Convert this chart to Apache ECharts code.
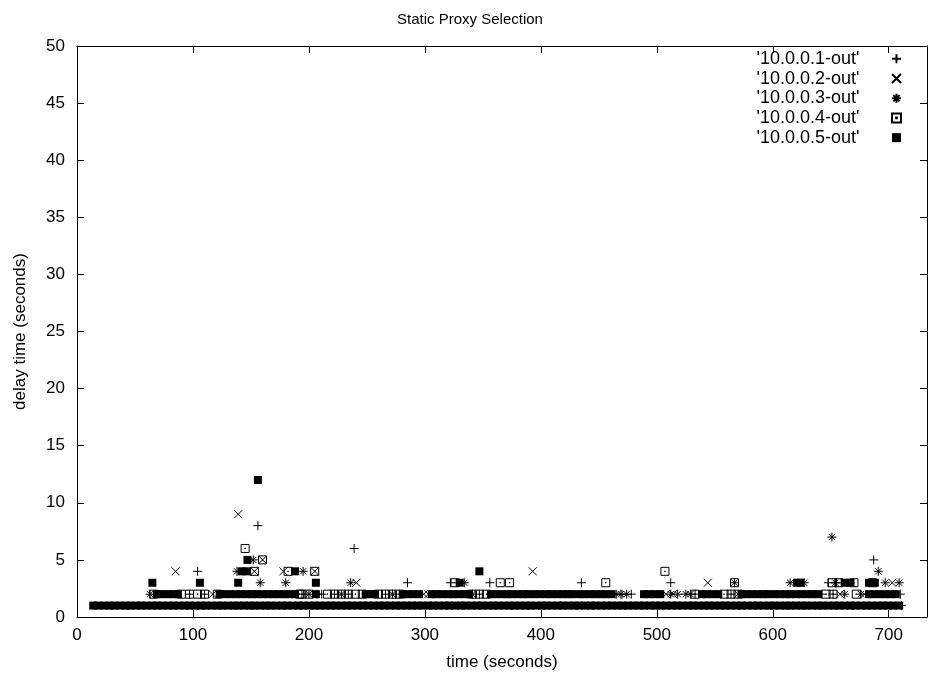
<!DOCTYPE html>
<html>
<head>
<meta charset="utf-8">
<title>Static Proxy Selection</title>
<script src="https://cdn.jsdelivr.net/npm/echarts@6/dist/echarts.min.js"></script>
<style>
  html, body { margin: 0; padding: 0; background: #fff; }
  #chart { width: 940px; height: 679px; }
</style>
</head>
<body>
<div id="chart"></div>
<script>
// tick labels
const xTicks = [0, 100, 200, 300, 400, 500, 600, 700]
const yTicks = [0, 5, 10, 15, 20, 25, 30, 35, 40, 45, 50]
const xMax = 733

const seriesNames = ["'10.0.0.1-out'", "'10.0.0.2-out'", "'10.0.0.3-out'", "'10.0.0.4-out'", "'10.0.0.5-out'"]

// 10.0.0.1 (+)
const out1Delay1 = [711]
const out1Delay2 = [97, 110, 194, 207, 211, 222, 234, 266, 278, 347, 470, 478, 533, 564, 642, 652, 710]
const out1Peaks = [[104, 4], [156, 8], [239, 6], [285, 3], [322, 3], [356, 3], [435, 3], [512, 3], [648, 3], [655, 3], [687, 5]]

// 10.0.0.2 (x)
const out2Delay1 = []
const out2Delay2 = [117, 299, 303, 508, 514, 570, 658, 679]
const out2Peaks = [[85, 4], [139, 9], [153, 4], [160, 5], [178, 4], [205, 4], [241, 3], [393, 4], [544, 3], [703, 3]]

// 10.0.0.3 (*)
const out3Delay1 = []
const out3Delay2 = [63, 200, 228, 272, 341, 465, 469, 474, 512, 518, 525, 529, 662, 676]
const out3Peaks = [[138, 4], [152, 5], [158, 3], [180, 3], [195, 4], [236, 3], [334, 3], [567, 3], [615, 3], [627, 3], [651, 7], [654, 3], [691, 4], [697, 3], [709, 3]]

// 10.0.0.4 (box with dot)
const out4Delay1 = []
const out4Delay2 = [66, 90, 97, 104, 110, 121, 192, 194, 200, 216, 222, 228, 234, 240, 246, 260, 266, 272, 278, 341, 347, 353, 533, 558, 564, 570, 646, 652, 672]
const out4Peaks = [[145, 6], [153, 4], [160, 5], [182, 4], [205, 4], [326, 3], [365, 3], [373, 3], [456, 3], [507, 4], [567, 3], [651, 3], [657, 3], [670, 3], [686, 3]]

// 10.0.0.5 (filled box)
const out5Delay1 = [14, 18, 23, 28, 32, 37, 42, 46, 51, 55, 60, 65, 69, 74, 79, 83, 88, 93, 97, 102,
  107, 111, 116, 121, 125, 130, 135, 139, 144, 149, 153, 158, 163, 167, 172, 177, 181, 186, 191, 195,
  200, 205, 209, 214, 219, 223, 228, 233, 237, 242, 247, 251, 256, 261, 265, 270, 275, 279, 284, 289,
  293, 298, 303, 307, 312, 317, 321, 326, 331, 335, 340, 345, 349, 354, 359, 363, 368, 373, 377, 382,
  387, 391, 396, 401, 405, 410, 415, 419, 424, 429, 433, 438, 443, 447, 452, 457, 461, 466, 471, 475,
  480, 485, 489, 494, 499, 503, 508, 513, 517, 522, 527, 531, 536, 541, 545, 550, 555, 559, 564, 569,
  573, 578, 583, 587, 592, 597, 601, 606, 611, 615, 620, 625, 629, 634, 639, 643, 648, 653, 657, 662,
  667, 671, 676, 681, 685, 690, 695, 699, 704, 709]
const out5Delay2 = [69, 73, 78, 83, 87, 123, 127, 132, 137, 141, 146, 151, 155, 160, 165, 169, 174, 179, 183, 188,
  206, 249, 253, 257, 281, 285, 290, 295, 306, 310, 315, 320, 324, 329, 334, 338,
  357, 361, 366, 371, 375, 380, 385, 389, 394, 399, 405, 409, 414, 419, 423, 427, 433, 437, 442, 447, 452, 456, 461,
  489, 493, 498, 503, 539, 543, 548, 553, 573, 577, 582, 587, 592, 596, 601, 606, 611, 615, 620, 625, 630, 634, 639,
  683, 687, 692, 697, 701, 706]
const out5Peaks = [[65, 3], [106, 3], [139, 3], [142, 4], [146, 4], [147, 5], [156, 12], [188, 4], [206, 3], [330, 3],
  [347, 4], [621, 3], [624, 3], [662, 3], [667, 3], [683, 3], [688, 3]]

function points(d1, d2, peaks) {
  return d1.map(t => [t, 1]).concat(d2.map(t => [t, 2]), peaks)
}

const font = '"Liberation Sans", Arial, Helvetica, sans-serif'
const open = { color: 'rgba(0,0,0,0)', borderColor: '#000', borderWidth: 1, opacity: 1 }

const marks = [
  { symbol: 'path://M5 0L5 10M0 5L10 5', size: 9, style: open, data: points(out1Delay1, out1Delay2, out1Peaks) },
  { symbol: 'path://M0 0L10 10M10 0L0 10', size: 8, style: open, data: points(out2Delay1, out2Delay2, out2Peaks) },
  { symbol: 'path://M5 0L5 10M0 5L10 5M1.5 1.5L8.5 8.5M8.5 1.5L1.5 8.5', size: 9, style: open, data: points(out3Delay1, out3Delay2, out3Peaks) },
  { symbol: 'path://M0 0L10 0L10 10L0 10ZM4.6 4.6L5.4 4.6L5.4 5.4L4.6 5.4Z', size: 8, style: open, data: points(out4Delay1, out4Delay2, out4Peaks) },
  { symbol: 'path://M0 0L10 0L10 10L0 10Z', size: 8, style: { color: '#000', borderWidth: 0, opacity: 1 }, data: points(out5Delay1, out5Delay2, out5Peaks) },
]

const frameLine = { show: true, onZero: false, lineStyle: { color: '#000', width: 1 } }
const innerTick = { show: true, inside: true, length: 7, lineStyle: { color: '#000', width: 1 } }

const chart = echarts.init(document.getElementById('chart'))
chart.setOption({
  animation: false,
  textStyle: { fontFamily: font },
  title: {
    text: 'Static Proxy Selection',
    left: 'center',
    top: 7,
    textStyle: { fontSize: 15, fontWeight: 'normal', color: '#000', fontFamily: font },
  },
  legend: {
    orient: 'vertical',
    right: 33,
    top: 44,
    align: 'right',
    itemWidth: 64,
    itemHeight: 9,
    itemGap: 0,
    selectedMode: false,
    textStyle: { fontSize: 18, color: '#000', lineHeight: 19.7, fontFamily: font },
    data: seriesNames,
  },
  grid: { left: 77, right: 13, top: 46, bottom: 62 },
  xAxis: [
    {
      type: 'value',
      min: xTicks[0],
      max: xMax,
      interval: xTicks[1] - xTicks[0],
      position: 'bottom',
      name: 'time (seconds)',
      nameLocation: 'middle',
      nameGap: 37,
      nameTextStyle: { fontSize: 17, color: '#000', fontFamily: font },
      axisLine: frameLine,
      axisTick: innerTick,
      axisLabel: {
        fontSize: 17, color: '#000', margin: 10, fontFamily: font, showMaxLabel: false,
        formatter: v => (xTicks.includes(v) ? String(v) : ''),
      },
      splitLine: { show: false },
    },
    {
      type: 'value',
      min: xTicks[0],
      max: xMax,
      interval: xTicks[1] - xTicks[0],
      position: 'top',
      axisLine: frameLine,
      axisTick: innerTick,
      axisLabel: { show: false },
      splitLine: { show: false },
    },
  ],
  yAxis: [
    {
      type: 'value',
      min: yTicks[0],
      max: yTicks[yTicks.length - 1],
      interval: yTicks[1] - yTicks[0],
      position: 'left',
      name: 'delay time (seconds)',
      nameLocation: 'middle',
      nameGap: 48,
      nameTextStyle: { fontSize: 17, color: '#000', fontFamily: font },
      axisLine: frameLine,
      axisTick: innerTick,
      axisLabel: { fontSize: 17, color: '#000', margin: 12, fontFamily: font },
      splitLine: { show: false },
    },
    {
      type: 'value',
      min: yTicks[0],
      max: yTicks[yTicks.length - 1],
      interval: yTicks[1] - yTicks[0],
      position: 'right',
      axisLine: frameLine,
      axisTick: innerTick,
      axisLabel: { show: false },
      splitLine: { show: false },
    },
  ],
  series: marks.map((m, i) => ({
    name: seriesNames[i],
    type: 'scatter',
    xAxisIndex: 0,
    yAxisIndex: 0,
    symbol: m.symbol,
    symbolSize: m.size,
    itemStyle: m.style,
    emphasis: { disabled: true },
    data: m.data,
  })),
})
</script>
</body>
</html>
